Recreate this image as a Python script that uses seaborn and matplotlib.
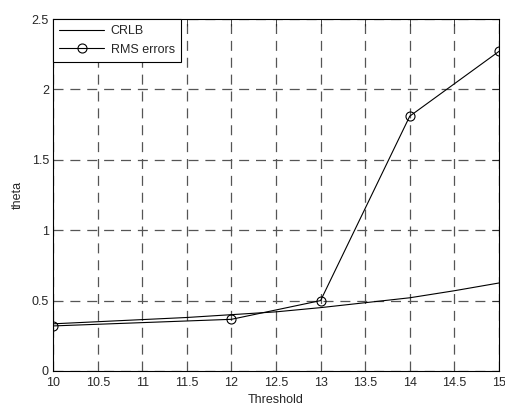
import matplotlib
matplotlib.use("Agg")
import matplotlib.pyplot as plt
import seaborn as sns
import pandas as pd

crlb_x = [10, 10.5, 11, 11.5, 12, 12.5, 13, 13.5, 14, 14.5, 15]
crlb_y = [0.335, 0.35, 0.365, 0.38, 0.40, 0.42, 0.45, 0.485, 0.52, 0.57, 0.625]
rms_x = [10, 12, 13, 14, 15]
rms_y = [0.32, 0.367, 0.50, 1.81, 2.27]
x_ticks = [10, 10.5, 11, 11.5, 12, 12.5, 13, 13.5, 14, 14.5, 15]
y_ticks = [0, 0.5, 1, 1.5, 2, 2.5]

sns.set_style("white")
plt.rcParams['font.family'] = ['Liberation Sans', 'DejaVu Sans']
plt.rcParams['font.size'] = 9

fig = plt.figure(figsize=(5.06, 4.05), dpi=100)
ax = fig.add_axes([0.105, 0.084, 0.881, 0.869])

df1 = pd.DataFrame({"x": crlb_x, "y": crlb_y})
df2 = pd.DataFrame({"x": rms_x, "y": rms_y})
sns.lineplot(data=df1, x="x", y="y", ax=ax, color="black", lw=0.8, label="CRLB")
sns.lineplot(data=df2, x="x", y="y", ax=ax, color="black", lw=0.8, marker="o",
             markersize=6.5, markerfacecolor="none", markeredgecolor="black",
             markeredgewidth=0.8, label="RMS errors")

ax.set_xlim(10, 15)
ax.set_ylim(0, 2.5)
ax.set_xticks(x_ticks)
ax.set_xticklabels([f"{t:g}" for t in x_ticks])
ax.set_yticks(y_ticks)
ax.set_yticklabels([f"{t:g}" for t in y_ticks])
ax.grid(True, color="#555555", linestyle=(0, (8, 5.5)), linewidth=0.9)
ax.tick_params(direction="in", length=5, width=0.6, top=True, right=True, labelsize=9)
ax.tick_params(axis="x", pad=4)
ax.tick_params(axis="y", pad=3)
for s in ax.spines.values():
    s.set_color("black")
    s.set_linewidth(0.8)
ax.set_xlabel("Threshold", fontsize=9, labelpad=4)
ax.set_ylabel("theta", fontsize=9, labelpad=6)

leg = ax.legend(loc="upper left", fontsize=9, frameon=True, fancybox=False,
                borderaxespad=0, handlelength=3.6, borderpad=0.5, labelspacing=0.5,
                handletextpad=0.5)
leg.get_frame().set_edgecolor("black")
leg.get_frame().set_linewidth(0.8)
leg.get_frame().set_alpha(1)

fig.savefig("out.png", dpi=100)
